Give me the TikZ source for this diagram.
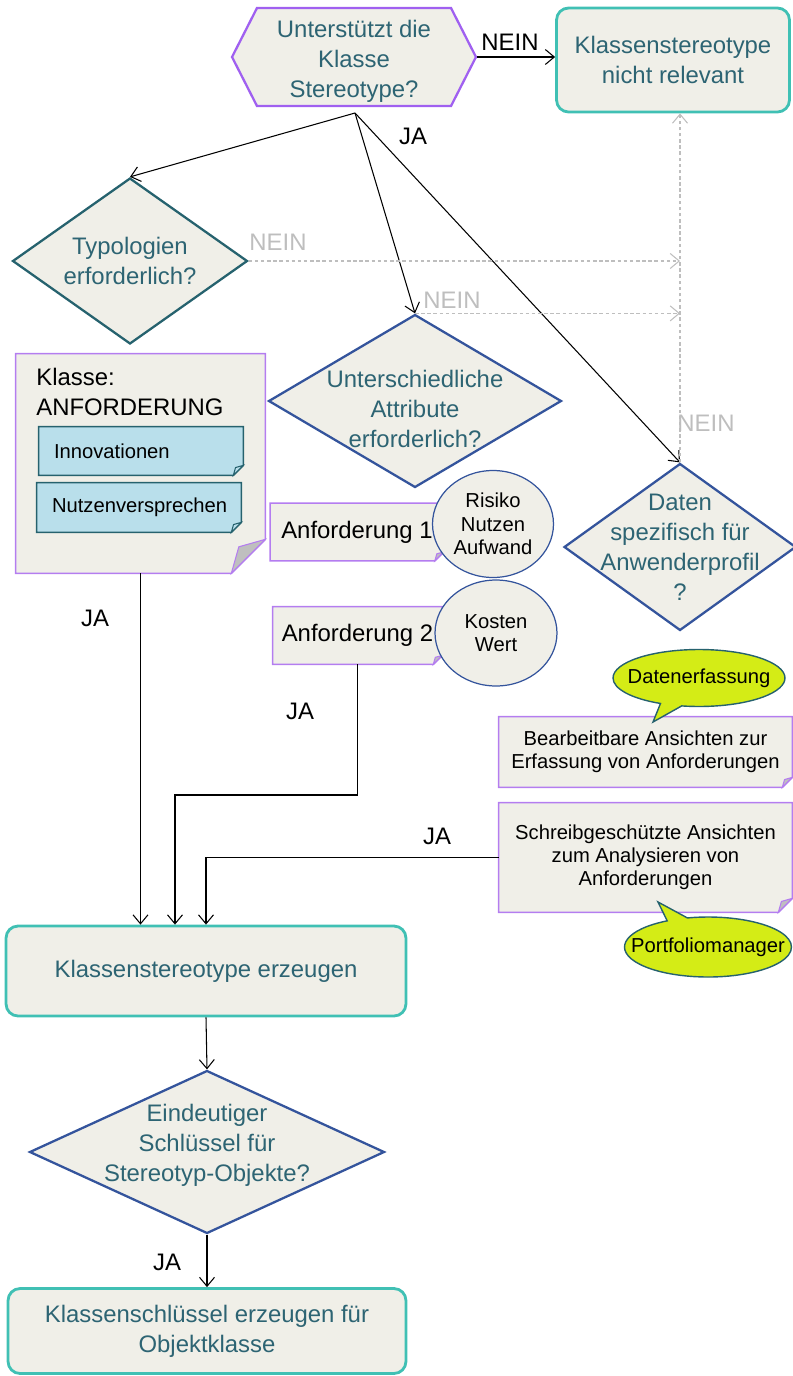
\documentclass[tikz,border=0pt]{standalone}
\usepackage{fontspec}
\setmainfont{Liberation Sans}
\usetikzlibrary{shapes.geometric, shapes.symbols, shapes.callouts, arrows.meta, positioning}

\definecolor{paper}{RGB}{240,239,232}
\definecolor{violett}{RGB}{160,96,240}
\definecolor{notelila}{RGB}{180,125,240}
\definecolor{tuerkis}{RGB}{64,192,180}
\definecolor{petrol}{RGB}{38,98,110}
\definecolor{blau}{RGB}{52,84,156}
\definecolor{schrift}{RGB}{45,100,115}
\definecolor{hellblau}{RGB}{185,223,235}
\definecolor{gelbgruen}{RGB}{212,236,22}
\definecolor{grau}{RGB}{190,190,190}

% note outline with folded corner: [outside colour]{node}{fold}{flap colour}{border colour}
\newcommand{\eselsohr}[5][white]{%
  \fill[#1] ([xshift=-#3]#2.south east) -- (#2.south east) -- ([yshift=#3]#2.south east) -- cycle;
  \draw[#5, line width=0.9pt] (#2.north west) -- (#2.north east) -- ([yshift=#3]#2.south east)
    -- ([xshift=-#3]#2.south east) -- (#2.south west) -- cycle;
  \draw[#5, line width=0.6pt, fill=#4] ([yshift=#3]#2.south east) -- ([xshift=-#3]#2.south east)
    -- ([xshift=-0.78*#3, yshift=0.78*#3]#2.south east) -- cycle;
}

\begin{document}
\begin{tikzpicture}[x=0.02cm, y=-0.02cm,
    font=\fontsize{13.6}{17}\selectfont,
    qtext/.style={text=schrift, align=center},
    hexa/.style={signal, signal to=west and east, signal pointer angle=126, draw=violett, line width=1.3pt, fill=paper, inner sep=0, minimum width=4.88cm, minimum height=1.96cm},
    decision/.style={diamond, draw=blau, line width=1.3pt, fill=paper, inner sep=0},
    block/.style={rectangle, draw=tuerkis, line width=1.6pt, fill=paper, rounded corners=0.24cm, text=schrift, align=center},
    note/.style={rectangle, fill=paper, inner sep=0, align=center},
    subnote/.style={rectangle, fill=hellblau, inner xsep=0.3cm, inner ysep=0, text width=3.48cm, align=left, font=\fontsize{11.5}{13}\selectfont},
    merkmal/.style={ellipse, draw=blau, line width=0.7pt, fill=paper, inner sep=0, align=center, font=\fontsize{11.5}{13.5}\selectfont},
    bubble/.style={ellipse callout, draw=petrol, fill=gelbgruen, line width=0.8pt, inner sep=0},
    small/.style={font=\fontsize{11.5}{13}\selectfont},
    greylbl/.style={text=grau},
    line/.style={draw, line width=0.6pt, -{Straight Barb[length=1.8mm, width=3mm]}},
    nolink/.style={draw=grau, line width=0.6pt, dash pattern=on 2pt off 1.5pt, -{Straight Barb[length=1.8mm, width=3mm]}}]
    \useasboundingbox (0,0) rectangle (793,1376);

    % Einstieg
    \node [hexa] (hex) at (354,57) {};
    \node [qtext] (hexText) at (354,61) {Unterstützt die\\Klasse\\Stereotype?};
    \node [block, minimum width=4.66cm, minimum height=2.08cm] (rel) at (673,60) {Klassenstereotype\\nicht relevant};
    \coordinate (jaSplit) at (355,113);

    % Fragen
    \node [decision, draw=petrol, minimum width=4.7cm, minimum height=3.32cm] (typ) at (130,261) {};
    \node [qtext] (typText) at (typ) {Typologien\\erforderlich?};
    \node [decision, minimum width=5.86cm, minimum height=3.46cm] (unt) at (415,401) {};
    \node [qtext] (untText) at (415,409) {Unterschiedliche\\Attribute\\erforderlich?};
    \node [decision, minimum width=4.64cm, minimum height=3.34cm] (dat) at (680,547) {};
    \node [qtext] (datText) at (dat) {Daten\\spezifisch für\\Anwenderprofil\\?};

    % Klasse ANFORDERUNG
    \node [note, minimum width=4.98cm, minimum height=4.38cm] (kla) at (140.5,463.5) {};
    \eselsohr{kla}{0.68cm}{black!25}{notelila}
    \node [anchor=north west, align=left, inner sep=0] (klaText) at (36,368) {Klasse:\\ANFORDERUNG};
    \node [subnote, minimum height=0.96cm] (inno) at (141,451) {Innovationen};
    \eselsohr[paper]{inno}{0.2cm}{hellblau}{petrol}
    \node [subnote, minimum height=0.98cm] (nutz) at (139,507.5) {Nutzenversprechen};
    \eselsohr[paper]{nutz}{0.2cm}{hellblau}{petrol}

    % Anforderungen
    \node [note, minimum width=3.46cm, minimum height=1.14cm] (anf1) at (357,532) {Anforderung 1};
    \eselsohr{anf1}{0.18cm}{black!25}{notelila}
    \node [merkmal, minimum width=2.42cm, minimum height=2.14cm] (ris) at (493,524) {Risiko\\Nutzen\\Aufwand};
    \node [note, minimum width=3.38cm, minimum height=1.14cm] (anf2) at (357.5,635.5) {Anforderung 2};
    \eselsohr{anf2}{0.18cm}{black!25}{notelila}
    \node [merkmal, minimum width=2.44cm, minimum height=2.12cm] (kos) at (496,633) {Kosten\\Wert};

    % Ansichten
    \node [note, small, minimum width=5.86cm, minimum height=1.4cm] (bea) at (645.5,752) {Bearbeitbare Ansichten zur\\Erfassung von Anforderungen};
    \eselsohr{bea}{0.2cm}{black!25}{notelila}
    \node [note, small, minimum width=5.86cm, minimum height=2.18cm] (sch) at (645.5,857.5) {Schreibgeschützte Ansichten\\zum Analysieren von\\Anforderungen};
    \eselsohr{sch}{0.28cm}{black!25}{notelila}
    \node [bubble, minimum width=3.44cm, minimum height=1.14cm, callout absolute pointer={(653,722)}] (erf) at (699,678) {};
    \node [small] (erfText) at (erf) {Datenerfassung};
    \node [bubble, minimum width=3.34cm, minimum height=1.2cm, callout absolute pointer={(658,902)}] (pfm) at (708,947) {};
    \node [small] (pfmText) at (pfm) {Portfoliomanager};

    % Erzeugen
    \node [block, minimum width=8cm, minimum height=1.8cm] (erz) at (206,971) {Klassenstereotype erzeugen};
    \node [decision, minimum width=7.1cm, minimum height=3.26cm] (ein) at (207,1152) {};
    \node [qtext] (einText) at (207,1145) {Eindeutiger\\Schlüssel für\\Stereotyp-Objekte?};
    \node [block, minimum width=7.96cm, minimum height=1.7cm] (obj) at (207,1331) {Klassenschlüssel erzeugen für\\Objektklasse};

    \path [line] (hex.east) -- (hex.east -| rel.west);
    \node (nein) at (510,42) {NEIN};
    \path [line] (jaSplit) -- (typ.north);
    \path [line] (jaSplit) -- (unt.north);
    \path [line] (jaSplit) -- (dat.north);
    \node (jaTop) at (413,136) {JA};

    \path [nolink] (typ.east) -- (typ.east -| dat.north);
    \path [nolink] (unt.north) -- (unt.north -| dat.north);
    \path [nolink] (dat.north) -- (dat.north |- rel.south);
    \node [greylbl] (neinTyp) at (278,242) {NEIN};
    \node [greylbl] (neinUnt) at (452,300) {NEIN};
    \node [greylbl] (neinDat) at (706,423) {NEIN};

    \coordinate (knick) at (175,795);
    \path [line] (kla.south) -- (kla.south |- erz.north);
    \path [line] (anf2.south) |- (knick) -- (knick |- erz.north);
    \path [line] (sch.west) -| (erz.north);
    \node (jaKla) at (95,618) {JA};
    \node (jaAnf) at (300,711) {JA};
    \node (jaSch) at (437,836) {JA};

    \path [line] (erz.south) -- (ein.north);
    \path [line] (ein.south) -- (obj.north);
    \node (jaEin) at (167,1262) {JA};
\end{tikzpicture}
\end{document}
